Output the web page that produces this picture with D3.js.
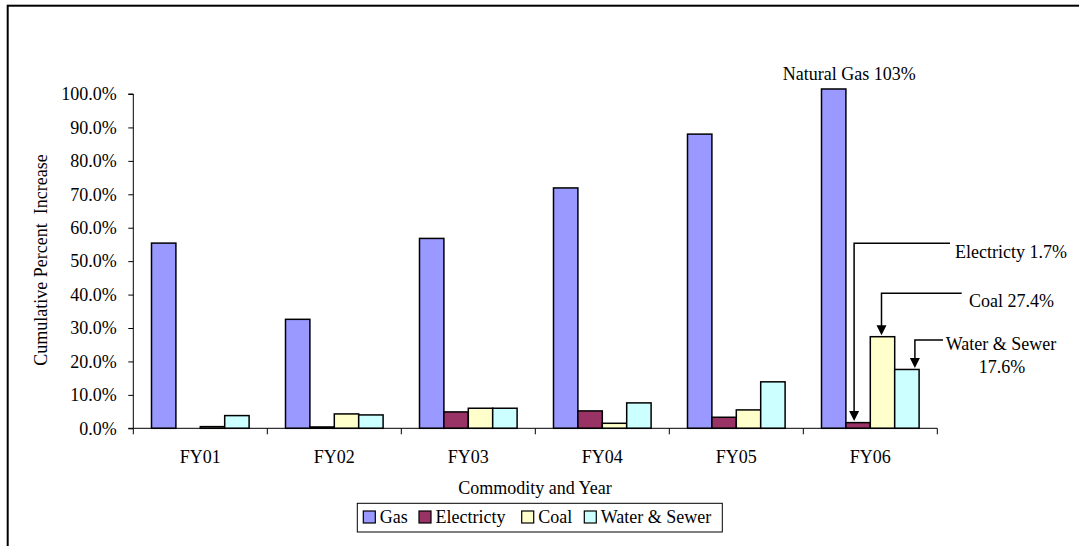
<!DOCTYPE html>
<html>
<head>
<meta charset="utf-8">
<script src="https://cdn.jsdelivr.net/npm/d3@7"></script>
<style>
  html, body { margin: 0; padding: 0; background: #fff; }
  svg text { font-family: "Liberation Serif", "Times New Roman", serif; fill: #000; }
</style>
</head>
<body>
<svg id="chart" width="1079" height="546"></svg>
<script>
// ---- data ----
const categories = ["FY01", "FY02", "FY03", "FY04", "FY05", "FY06"];
const seriesNames = ["Gas", "Electricty", "Coal", "Water & Sewer"];
const gas = [55.4, 32.6, 56.8, 71.9, 88.0, 103];
const electricity = [0, 0.4, 4.9, 5.2, 3.3, 1.7];
const coal = [0.5, 4.3, 6.0, 1.5, 5.5, 27.4];
const water = [3.8, 4.0, 6.0, 7.6, 13.9, 17.6];
const yTicks = [0, 10, 20, 30, 40, 50, 60, 70, 80, 90, 100];
const colors = ["#9999FF", "#993366", "#FFFFCC", "#CCFFFF"];

const seriesValues = [gas, electricity, coal, water];
const table = [];
categories.forEach((c, i) => {
  seriesNames.forEach((s, j) => table.push({ cat: c, series: s, value: seriesValues[j][i], color: colors[j] }));
});

// ---- layout ----
const svg = d3.select("#chart");
const plotLeft = 133.3, plotRight = 937.3, plotBottom = 428.3, plotTop = 94;
const clipMax = 101.5; // bars beyond this are cut by the plot frame

const x0 = d3.scaleBand().domain(categories).range([plotLeft, plotRight]).padding(0);
const x1 = d3.scaleBand().domain(seriesNames).range([0, x0.bandwidth()]).paddingInner(0).paddingOuter(0.746);
const y = d3.scaleLinear().domain([0, 100]).range([plotBottom, plotTop]);

// outer frame (cropped on right and bottom)
svg.append("rect").attr("x", 7.7).attr("y", 5.7).attr("width", 2000).attr("height", 2000)
  .attr("fill", "none").attr("stroke", "#000").attr("stroke-width", 2);

// bars
svg.append("g").selectAll("rect").data(table).join("rect")
  .attr("x", d => x0(d.cat) + x1(d.series))
  .attr("width", x1.bandwidth())
  .attr("y", d => y(Math.min(d.value, clipMax)))
  .attr("height", d => y(0) - y(Math.min(d.value, clipMax)))
  .attr("fill", d => d.color)
  .attr("stroke", "#000")
  .attr("stroke-width", 1.5)
  .attr("display", d => d.value > 0 ? null : "none");

// y axis
const yAxis = svg.append("g").attr("transform", `translate(${plotLeft},0)`)
  .call(d3.axisLeft(y).tickValues(yTicks).tickFormat(d => d.toFixed(1) + "%").tickSize(5).tickPadding(11.5));
yAxis.select(".domain").attr("d", `M-5,${plotTop}H0V${plotBottom}H-5`).attr("stroke", "#000");
yAxis.selectAll(".tick line").attr("stroke", "#000");
yAxis.selectAll("text").style("font-size", "18px").attr("font-family", null);

// x axis
const xAxis = svg.append("g");
xAxis.append("line").attr("x1", plotLeft).attr("x2", plotRight).attr("y1", plotBottom).attr("y2", plotBottom)
  .attr("stroke", "#000").attr("stroke-width", 1);
const boundaries = categories.map(c => x0(c)).concat([x0(categories[categories.length - 1]) + x0.bandwidth()]);
xAxis.selectAll("line.tk").data(boundaries).join("line").attr("class", "tk")
  .attr("x1", d => d).attr("x2", d => d).attr("y1", plotBottom).attr("y2", plotBottom + 6)
  .attr("stroke", "#000");
xAxis.selectAll("text").data(categories).join("text")
  .attr("x", d => x0(d) + x0.bandwidth() / 2).attr("y", 462.7)
  .attr("text-anchor", "middle").style("font-size", "18px").text(d => d);

// axis titles
svg.append("text").attr("x", 535).attr("y", 494).attr("text-anchor", "middle")
  .style("font-size", "18px").text("Commodity and Year");
svg.append("text").attr("transform", "translate(46.5,260) rotate(-90)").attr("text-anchor", "middle")
  .style("font-size", "18px").style("white-space", "pre").text("Cumulative Percent  Increase");

// annotations
const lastCat = categories[categories.length - 1];
const center = s => x0(lastCat) + x1(s) + x1.bandwidth() / 2;
const valOf = s => seriesValues[seriesNames.indexOf(s)][categories.length - 1];

svg.append("text").attr("x", center("Gas") - 51).attr("y", 80).style("font-size", "18px")
  .text("Natural Gas " + Math.round(valOf("Gas")) + "%");

const annotations = [
  { series: "Electricty", dx: -4, lineY: 243.3, lineEnd: 950, lines: ["Electricty " + valOf("Electricty").toFixed(1) + "%"], tx: 955, ty: 258, anchor: "start" },
  { series: "Coal", dx: -1, lineY: 293.3, lineEnd: 961.7, lines: ["Coal " + valOf("Coal").toFixed(1) + "%"], tx: 969, ty: 307, anchor: "start" },
  { series: "Water & Sewer", dx: 8, lineY: 340, lineEnd: 943, lines: ["Water & Sewer", valOf("Water & Sewer").toFixed(1) + "%"], tx: 1002, ty: 350, anchor: "middle" }
];
const ag = svg.append("g");
annotations.forEach(a => {
  const vx = center(a.series) + a.dx;
  const tip = y(valOf(a.series)) - 1.5;
  ag.append("path").attr("d", `M${a.lineEnd},${a.lineY}H${vx}V${tip - 9}`)
    .attr("fill", "none").attr("stroke", "#000").attr("stroke-width", 1.5);
  ag.append("path").attr("d", `M${vx - 5},${tip - 10}L${vx + 5},${tip - 10}L${vx},${tip}Z`).attr("fill", "#000");
  a.lines.forEach((t, i) => {
    ag.append("text").attr("x", a.tx).attr("y", a.ty + i * 22.7).attr("text-anchor", a.anchor)
      .style("font-size", "18px").text(t);
  });
});
// second water line centered; first line positioned start at 945.7 for match
ag.selectAll("text").filter(function () { return d3.select(this).text() === "Water & Sewer"; })
  .attr("text-anchor", "start").attr("x", 945.7);

// legend
const legend = svg.append("g");
legend.append("rect").attr("x", 357.3).attr("y", 503.3).attr("width", 365).attr("height", 28.7)
  .attr("fill", "#fff").attr("stroke", "#000").attr("stroke-width", 1);
const legendX = [363.3, 419, 521.7, 584.3];
seriesNames.forEach((s, i) => {
  legend.append("rect").attr("x", legendX[i]).attr("y", 511).attr("width", 12).attr("height", 12)
    .attr("fill", colors[i]).attr("stroke", "#000").attr("stroke-width", 1.2);
  legend.append("text").attr("x", legendX[i] + 16.5).attr("y", 523.3).style("font-size", "18px").text(s);
});
</script>
</body>
</html>
